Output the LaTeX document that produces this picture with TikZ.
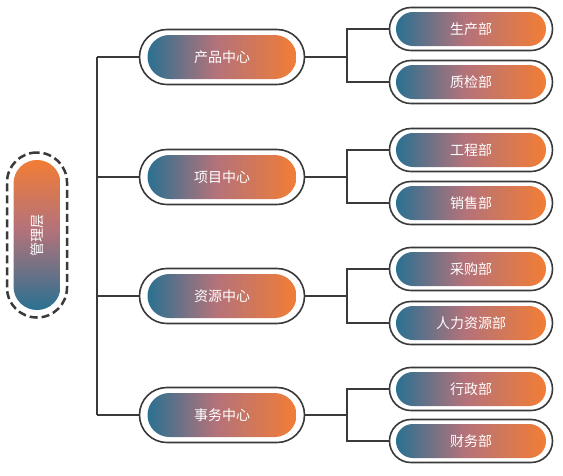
\documentclass[tikz,border=0pt]{standalone}
\usepackage{fontspec}
\newfontfamily\cjk{Noto Sans CJK SC}
\definecolor{cb}{HTML}{2A7191}
\definecolor{cm}{HTML}{B4727A}
\definecolor{co}{HTML}{F27D35}
\definecolor{lc}{HTML}{3A3A3A}
\pgfdeclarehorizontalshading{capsule}{100bp}{color(0bp)=(cb); color(25bp)=(cb); color(48bp)=(cm); color(75bp)=(co); color(100bp)=(co)}
\pgfdeclareverticalshading{rootsh}{100bp}{color(0bp)=(cb); color(25bp)=(cb); color(52bp)=(cm); color(75bp)=(co); color(100bp)=(co)}
\tikzset{
  conn/.style={draw=lc, line width=1.8pt},
  txt/.style={text=white, font=\cjk\fontsize{14}{16}\selectfont},
  outm/.style={draw=lc, line width=1.6pt, fill=white, rounded corners=27.4pt, minimum width=165pt, minimum height=55pt, inner sep=0pt},
  inm/.style={shading=capsule, rounded corners=21.9pt, minimum width=149pt, minimum height=44pt, inner sep=0pt, txt},
  outl/.style={draw=lc, line width=1.6pt, fill=white, rounded corners=21.4pt, minimum width=163pt, minimum height=43pt, inner sep=0pt},
  inl/.style={shading=capsule, rounded corners=16.9pt, minimum width=150pt, minimum height=34pt, inner sep=0pt, txt},
  outr/.style={draw=lc, line width=2.5pt, dash pattern=on 8pt off 4pt, fill=white, rounded corners=29.9pt, minimum width=60pt, minimum height=165pt, inner sep=0pt},
  inr/.style={shading=rootsh, rounded corners=23.4pt, minimum width=47pt, minimum height=150pt, inner sep=0pt, txt}
}
\begin{document}
\begin{tikzpicture}[x=1pt,y=-1pt]
\useasboundingbox[fill=white] (0,0) rectangle (563,475);
\coordinate (bus) at (97,0);
\coordinate (br) at (347,0);
% root
\node[outr] (root) at (37,235) {};
\node[inr] (rooti) at (37,235) {\rotatebox{90}{管理层}};
% middles
\foreach \n/\y/\t in {m1/57/产品中心, m2/177/项目中心, m3/296/资源中心, m4/415/事务中心}{
  \node[outm] (\n) at (222,\y) {};
  \node[inm] (\n i) at (222,\y) {\t};
}
% leaves
\foreach \n/\y/\t in {l1/29/生产部, l2/82/质检部, l3/150/工程部, l4/203/销售部, l5/269/采购部, l6/323/人力资源部, l7/389/行政部, l8/441/财务部}{
  \node[outl] (\n) at (471,\y) {};
  \node[inl] (\n i) at (471,\y) {\t};
}
% bus
\draw[conn] (m1.west -| bus) -- (m4.west -| bus);
\foreach \m in {m1,m2,m3,m4}{
  \draw[conn] (\m.west) -- (\m.west -| bus);
}
% brackets
\foreach \m/\a/\b in {m1/l1/l2, m2/l3/l4, m3/l5/l6, m4/l7/l8}{
  \draw[conn] (\m.east) -- (\m.east -| br);
  \draw[conn] (\a.west) -- (\a.west -| br) -- (\b.west -| br) -- (\b.west);
}
\end{tikzpicture}
\end{document}
